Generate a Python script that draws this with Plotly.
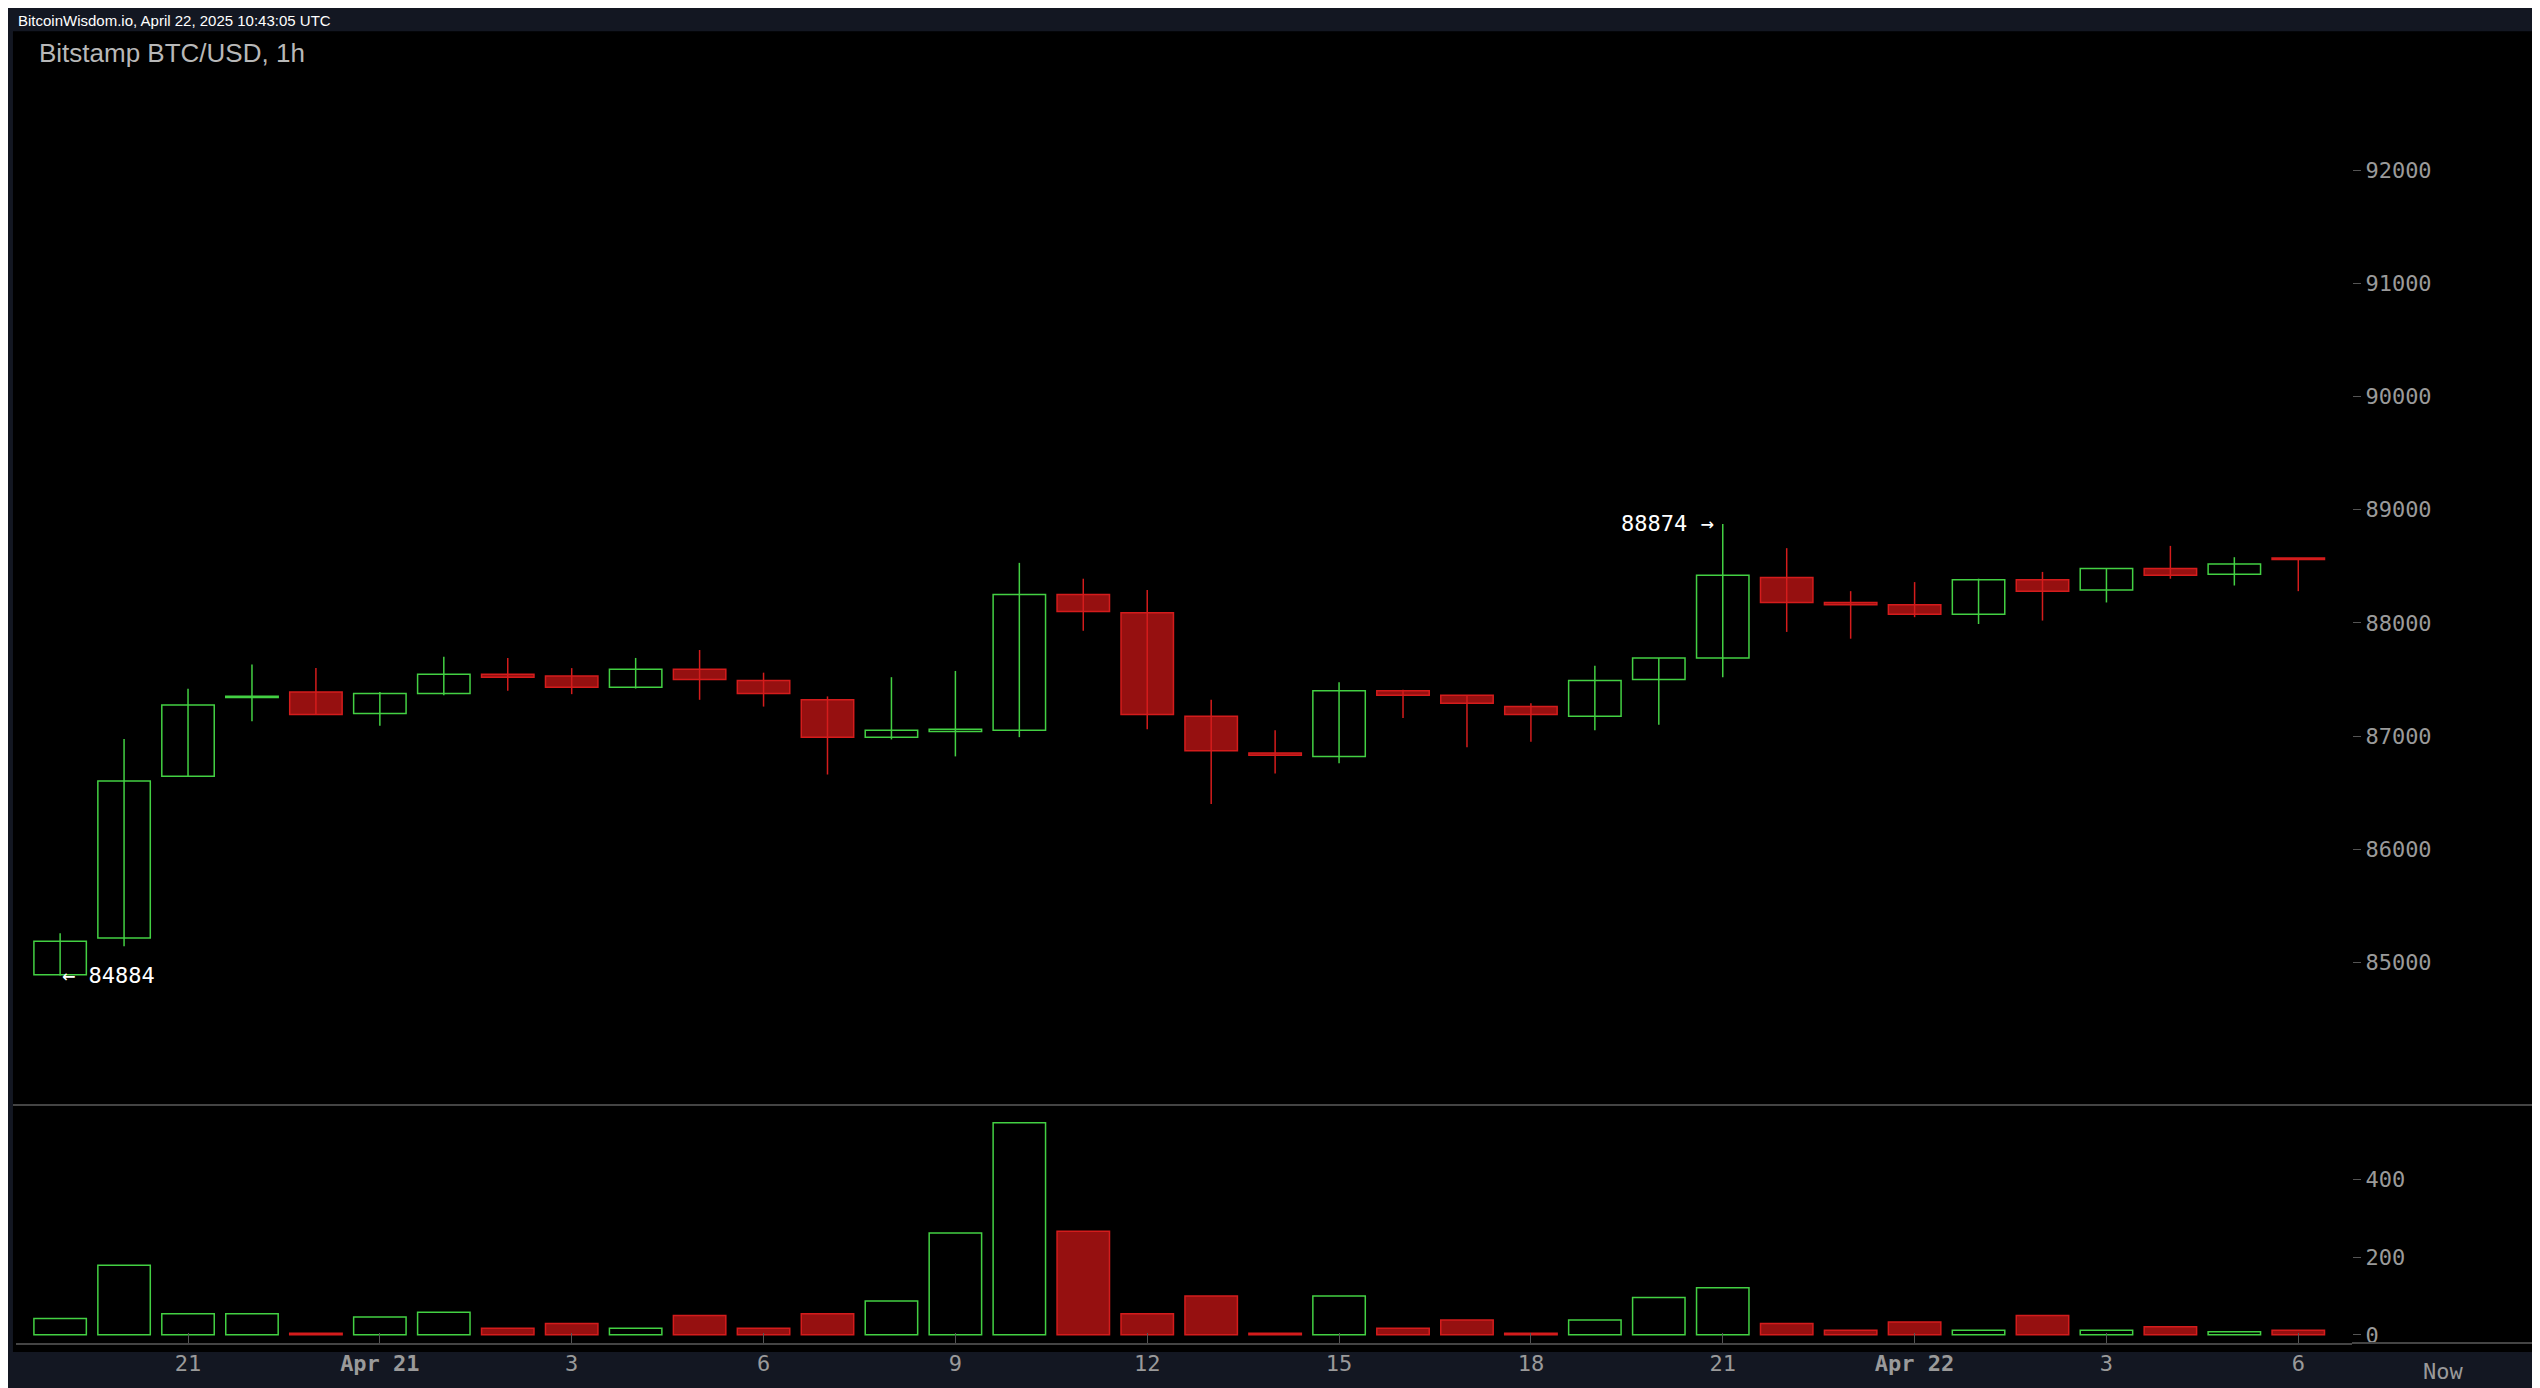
import plotly.graph_objects as go
import pandas as pd

start = pd.Timestamp("2025-04-20 19:00")
times = [start + pd.Timedelta(hours=i) for i in range(36)]
opens  = [84890,85215,86645,87340,87390,87200,87375,87546,87530,87430,87590,87490,87320,86990,87040,87050,88250,88090,87175,86850,86820,87400,87360,87260,87175,87500,87690,88400,88180,88160,88075,88380,88290,88480,88430,88570]
highs  = [85257,86974,87418,87632,87600,87390,87700,87690,87600,87690,87760,87560,87350,87520,87575,88530,88390,88290,87320,87050,87475,87410,87360,87290,87620,87690,88874,88660,88280,88360,88390,88450,88480,88680,88580,88570]
lows   = [84884,85143,86645,87130,87190,87090,87360,87400,87370,87420,87320,87260,86660,86970,86820,86990,87930,87060,86400,86670,86760,87160,86900,86950,87050,87100,87520,87920,87860,88050,87990,88020,88180,88390,88330,88280]
closes = [85186,86602,87275,87350,87190,87375,87546,87520,87430,87590,87500,87375,86990,87050,87060,88250,88100,87190,86870,86830,87400,87360,87290,87190,87490,87690,88420,88180,88160,88075,88380,88280,88480,88420,88520,88560]
volumes = [42,179,54,54,4,46,58,17,29,17,50,17,54,87,262,546,267,54,100,4,100,17,38,4,38,96,121,29,12,33,12,50,12,21,8,12]
tick_hours = [2,5,8,11,14,17,20,23,26,29,32,35]
tick_text = ["21","<b>Apr 21</b>","3","6","9","12","15","18","21","<b>Apr 22</b>","3","6"]
price_ticks = [85000,86000,87000,88000,89000,90000,91000,92000]
price_text = ["85000","86000","87000","88000","89000","90000","91000","92000"]
vol_ticks = [0,200,400]

GREEN = "#43d043"; RED_LINE = "#d41c1c"; RED_FILL = "#961010"
W = 0.82*3600000

fig = go.Figure()
for up in (True, False):
    idx = [i for i in range(36) if (closes[i] >= opens[i]) == up]
    wx, wy = [], []
    for i in idx:
        wx += [times[i], times[i], None]; wy += [lows[i], highs[i], None]
    col = GREEN if up else RED_LINE
    fig.add_trace(go.Scatter(x=wx, y=wy, mode="lines", line=dict(color=col, width=1.5),
                             xaxis="x", yaxis="y2", hoverinfo="skip", showlegend=False))
    fig.add_trace(go.Bar(x=[times[i] for i in idx],
                         base=[min(opens[i], closes[i]) for i in idx],
                         y=[max(abs(closes[i]-opens[i]), 12) for i in idx],
                         width=W, marker=dict(color="black" if up else RED_FILL, line=dict(color=col, width=1.5)),
                         xaxis="x", yaxis="y2", showlegend=False))
    fig.add_trace(go.Bar(x=[times[i] for i in idx], y=[volumes[i] for i in idx], width=W,
                         marker=dict(color="black" if up else RED_FILL, line=dict(color=col, width=1.5)),
                         xaxis="x", yaxis="y", showlegend=False))

split = 0.1866
mono = "DejaVu Sans Mono"
fig.update_layout(
    width=2540, height=1388, barmode="overlay",
    margin=dict(l=8, r=196, t=59, b=53),
    paper_bgcolor="#131722", plot_bgcolor="black",
    xaxis=dict(range=[start - pd.Timedelta(hours=0.69), start + pd.Timedelta(hours=35.84)],
               tickvals=[start + pd.Timedelta(hours=h) for h in tick_hours], ticktext=tick_text,
               ticks="inside", ticklen=10, tickcolor="#555", showgrid=False, zeroline=False,
               showline=True, linecolor="#444", linewidth=2,
               tickfont=dict(family=mono, size=22, color="#9a9a9a"), anchor="y"),
    yaxis=dict(domain=[0, split], range=[-21, 592], side="right", tickvals=vol_ticks,
               ticks="outside", ticklen=8, tickcolor="#555", showgrid=False, zeroline=False,
               tickfont=dict(family=mono, size=22, color="#9a9a9a")),
    yaxis2=dict(domain=[split, 1], range=[83741, 92911], side="right", tickvals=price_ticks,
                ticktext=price_text,
                ticks="outside", ticklen=8, tickcolor="#555", showgrid=False, zeroline=False,
                tickfont=dict(family=mono, size=22, color="#9a9a9a"), anchor="x"),
    shapes=[
        dict(type="rect", xref="paper", yref="paper", x0=-0.0013, x1=1.082, y0=-0.007, y1=1.028,
             fillcolor="black", line=dict(width=0), layer="below"),
        dict(type="line", xref="paper", yref="paper", x0=-0.0013, x1=1.082, y0=split, y1=split,
             line=dict(color="#444", width=2)),
        dict(type="line", xref="paper", yref="paper", x0=1.0, x1=1.082, y0=0, y1=0,
             line=dict(color="#444", width=2)),
    ],
    annotations=[
        dict(text="BitcoinWisdom.io, April 22, 2025 10:43:05 UTC", xref="paper", yref="paper",
             x=0.0, y=1.045, xanchor="left", yanchor="top", showarrow=False,
             font=dict(family="Liberation Sans", size=15, color="white")),
        dict(text="Bitstamp BTC/USD, 1h", xref="paper", yref="paper", x=0.009, y=1.011,
             xanchor="left", yanchor="middle", showarrow=False,
             font=dict(family="Liberation Sans", size=26, color="#b8b8b8")),
        dict(text="Now", xref="paper", yref="paper", x=1.039, y=-0.022, xanchor="center", yanchor="middle",
             showarrow=False, font=dict(family=mono, size=22, color="#9a9a9a")),
        dict(text="88874 →", x=times[26] - pd.Timedelta(hours=0.1), y=88874, xref="x", yref="y2",
             xanchor="right", yanchor="middle", showarrow=False,
             font=dict(family=mono, size=22, color="white")),
        dict(text="← 84884", x=times[0] + pd.Timedelta(hours=0.0), y=84884, xref="x", yref="y2",
             xanchor="left", yanchor="middle", showarrow=False,
             font=dict(family=mono, size=22, color="white")),
    ],
)
fig.write_html("out.html")
